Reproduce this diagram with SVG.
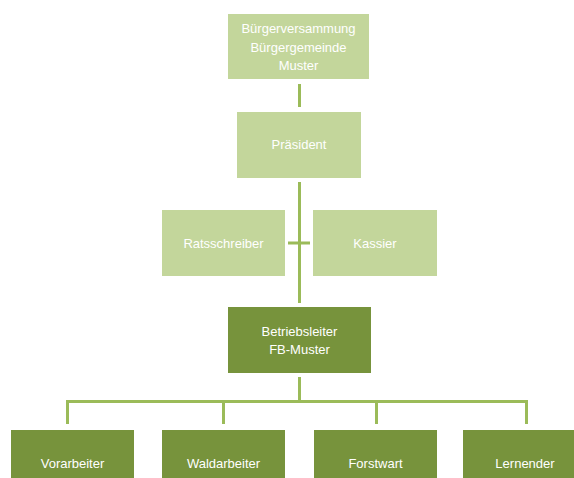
<svg xmlns="http://www.w3.org/2000/svg" width="574" height="478" viewBox="0 0 574 478">
  <style>
    .light { fill: #C3D69B; }
    .dark { fill: #77933C; }
    .lbl { font-family: "Liberation Sans", Arial, sans-serif; font-size: 13px; fill: #FFFFFF; text-anchor: middle; }
    .conn { stroke: #9BBB59; stroke-width: 3; fill: none; }
  </style>
  <rect width="574" height="478" fill="#FFFFFF"/>

  <g id="connectors">
    <line class="conn" x1="299.5" y1="84" x2="299.5" y2="107"/>
    <line class="conn" x1="299.5" y1="182" x2="299.5" y2="303"/>
    <line class="conn" x1="288" y1="243" x2="310" y2="243"/>
    <line class="conn" x1="299.5" y1="377" x2="299.5" y2="401"/>
    <polyline class="conn" points="67.5,424 67.5,401.5 526.5,401.5 526.5,424"/>
    <line class="conn" x1="223.5" y1="401" x2="223.5" y2="424"/>
    <line class="conn" x1="376.5" y1="401" x2="376.5" y2="424"/>
  </g>

  <g id="buergerversammlung">
    <rect class="light" x="228" y="14" width="141" height="65"/>
    <text class="lbl" x="298.5" y="33">Bürgerversammung</text>
    <text class="lbl" x="298.5" y="52">Bürgergemeinde</text>
    <text class="lbl" x="298.5" y="70">Muster</text>
  </g>

  <g id="praesident">
    <rect class="light" x="237" y="112" width="124" height="66"/>
    <text class="lbl" x="299" y="149">Präsident</text>
  </g>

  <g id="ratsschreiber">
    <rect class="light" x="162" y="210" width="123" height="66"/>
    <text class="lbl" x="223.5" y="248">Ratsschreiber</text>
  </g>

  <g id="kassier">
    <rect class="light" x="313" y="210" width="124" height="66"/>
    <text class="lbl" x="375" y="248">Kassier</text>
  </g>

  <g id="betriebsleiter">
    <rect class="dark" x="228" y="307" width="143" height="66"/>
    <text class="lbl" x="299.5" y="336">Betriebsleiter</text>
    <text class="lbl" x="299.5" y="354">FB-Muster</text>
  </g>

  <g id="vorarbeiter">
    <rect class="dark" x="11" y="430" width="123" height="60"/>
    <text class="lbl" x="72.5" y="468">Vorarbeiter</text>
  </g>

  <g id="waldarbeiter">
    <rect class="dark" x="162" y="430" width="123" height="60"/>
    <text class="lbl" x="223.5" y="468">Waldarbeiter</text>
  </g>

  <g id="forstwart">
    <rect class="dark" x="314" y="430" width="123" height="60"/>
    <text class="lbl" x="375.5" y="468">Forstwart</text>
  </g>

  <g id="lernender">
    <rect class="dark" x="463" y="430" width="123" height="60"/>
    <text class="lbl" x="525" y="468">Lernender</text>
  </g>
</svg>
